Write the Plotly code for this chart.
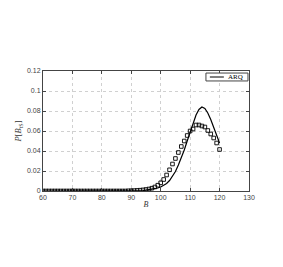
import plotly.graph_objects as go

B = list(range(60, 121))

arq_sim = [0.0] * 29 + [
    0.0002, 0.0003, 0.0004, 0.0006, 0.0008, 0.0011, 0.0015, 0.002, 0.0028, 0.004,
    0.0058, 0.0082, 0.0115, 0.016, 0.0212, 0.027, 0.0325, 0.0385, 0.0445, 0.050,
    0.0555, 0.060, 0.062, 0.066, 0.066, 0.065, 0.064, 0.0605, 0.057, 0.053,
    0.048, 0.0415]

arq_model = [0.0] * 31 + [
    0.0001, 0.0002, 0.0003, 0.0005, 0.0008, 0.0012, 0.0017, 0.0023, 0.003, 0.004,
    0.0055, 0.0075, 0.0105, 0.0145, 0.0195, 0.026, 0.033, 0.041, 0.050, 0.059,
    0.068, 0.076, 0.0815, 0.084, 0.0825, 0.078, 0.0715, 0.064, 0.056, 0.048]

x_ticks = [60, 70, 80, 90, 100, 110, 120, 130]
y_ticks = [0, 0.02, 0.04, 0.06, 0.08, 0.1, 0.12]
y_tick_text = ["0", "0.02", "0.04", "0.06", "0.08", "0.1", "0.12"]
legend_label = "ARQ"

fig = go.Figure()
fig.add_trace(go.Scatter(x=B, y=arq_model, mode="lines",
                         line=dict(color="black", width=1.2), showlegend=False))
fig.add_trace(go.Scatter(x=B, y=arq_sim, mode="markers",
                         marker=dict(symbol="square-open", size=3.6, color="black",
                                     line=dict(width=0.9)),
                         showlegend=False))

axis_common = dict(showline=True, linecolor="#444", linewidth=1, mirror="ticks",
                   ticks="inside", ticklen=3, tickcolor="#444", automargin=False,
                   showgrid=True, gridcolor="#d0d0d0", griddash="dot", gridwidth=0.6,
                   zeroline=False, tickfont=dict(size=7, family="Liberation Sans", color="#444"))

# manual compact legend (paper coordinates)
lx0, lx1, ly0, ly1 = 0.791, 0.995, 0.917, 0.983
ym = (ly0 + ly1) / 2
shapes = [
    dict(type="rect", xref="paper", yref="paper", x0=lx0, x1=lx1, y0=ly0, y1=ly1,
         line=dict(color="#444", width=1), fillcolor="white", layer="above"),
    dict(type="line", xref="paper", yref="paper", x0=0.81, x1=0.878, y0=ym, y1=ym,
         line=dict(color="black", width=1), layer="above"),
]
fig.add_trace(go.Scatter(x=[0.844], y=[ym], xaxis="x2", yaxis="y2", mode="markers",
                         marker=dict(symbol="square-open", size=3.6, color="black",
                                     line=dict(width=0.9)),
                         showlegend=False, hoverinfo="skip"))

fig.update_layout(
    width=267, height=251,
    margin=dict(l=35, r=26, t=63, b=68),
    paper_bgcolor="white", plot_bgcolor="white",
    showlegend=False,
    xaxis=dict(range=[60, 130], tickvals=x_ticks, title=dict(text="<i>B</i>", standoff=0,
               font=dict(size=8, family="Liberation Serif", color="#333")), **axis_common),
    yaxis=dict(range=[0, 0.12], tickvals=y_ticks, ticktext=y_tick_text,
               title=dict(text="<i>P</i>[<i>B</i><sub>tS</sub>]", standoff=3,
               font=dict(size=8.5, family="Liberation Serif", color="#333")), **axis_common),
    xaxis2=dict(range=[0, 1], overlaying="x", visible=False),
    yaxis2=dict(range=[0, 1], overlaying="y", visible=False),
    shapes=shapes,
    annotations=[dict(text=legend_label, xref="paper", yref="paper", x=0.886, y=ym,
                      xanchor="left", yanchor="middle", showarrow=False,
                      font=dict(size=7, family="Liberation Serif", color="black"))],
)

fig.write_html("out.html")
